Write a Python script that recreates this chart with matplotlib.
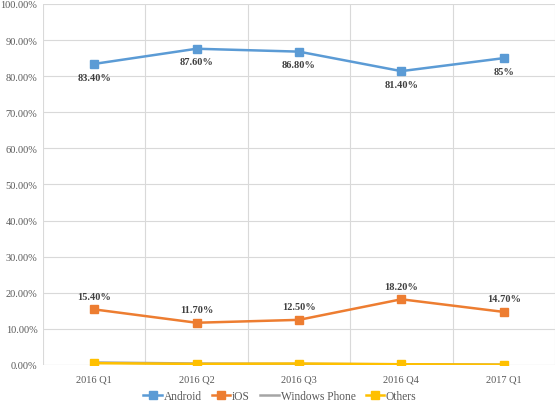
import matplotlib
matplotlib.use("Agg")
import matplotlib.pyplot as plt

# market share by quarter
quarters = ["2016 Q1", "2016 Q2", "2016 Q3", "2016 Q4", "2017 Q1"]
android = [83.4, 87.6, 86.8, 81.4, 85.0]
ios = [15.4, 11.7, 12.5, 18.2, 14.7]
windows_phone = [0.7, 0.4, 0.3, 0.2, 0.1]
others = [0.5, 0.3, 0.4, 0.2, 0.1]
android_labels = ["83.40%", "87.60%", "86.80%", "81.40%", "85%"]
ios_labels = ["15.40%", "11.70%", "12.50%", "18.20%", "14.70%"]

plt.rcParams['font.family'] = ['Liberation Serif', 'DejaVu Serif']

fig = plt.figure(figsize=(5.56, 4.02), dpi=100)
ax = fig.add_axes([0.0773, 0.0896, 0.9207, 0.898])

x = list(range(len(quarters)))
ax.plot(x, android, color='#5B9BD5', lw=1.8, marker='s', ms=5.5, label='Android', zorder=3)
ax.plot(x, ios, color='#ED7D31', lw=1.8, marker='s', ms=5.5, label='iOS', zorder=3)
ax.plot(x, windows_phone, color='#A5A5A5', lw=1.8, label='Windows Phone', zorder=3)
ax.plot(x, others, color='#FFC000', lw=1.8, marker='s', ms=5.5, label='Others', zorder=4)

for i in x:
    ax.annotate(android_labels[i], (i, android[i]), xytext=(0, -9.5), textcoords='offset points',
                ha='center', va='center', fontsize=7.5, fontweight='bold', color='#404040')
    ax.annotate(ios_labels[i], (i, ios[i]), xytext=(0, 9.5), textcoords='offset points',
                ha='center', va='center', fontsize=7.5, fontweight='bold', color='#404040')

ax.set_xlim(-0.5, 4.5)
ax.set_ylim(0, 100)
ax.set_xticks(x)
ax.set_xticklabels(quarters)
ax.set_xticks([i - 0.5 for i in range(len(quarters) + 1)], minor=True)
ax.set_yticks(range(0, 101, 10))
ax.set_yticklabels(["%.2f%%" % v for v in range(0, 101, 10)])
ax.grid(True, which='minor', axis='x', color='#D9D9D9', lw=0.8)
ax.grid(True, which='major', axis='y', color='#D9D9D9', lw=0.8)
ax.tick_params(which='both', length=0, labelsize=7.5, labelcolor='#595959')
ax.tick_params(axis='x', pad=7)
ax.tick_params(axis='y', pad=4)
for s in ax.spines.values():
    s.set_visible(False)
ax.axhline(0, color='#D9D9D9', lw=0.8, zorder=1)

ax.legend(loc='lower center', bbox_to_anchor=(0.463, -0.131), ncol=4, frameon=False,
          fontsize=8.3, handlelength=1.6, columnspacing=0.9, handletextpad=0.15,
          labelcolor='#595959')

fig.savefig('out.png', dpi=100)
